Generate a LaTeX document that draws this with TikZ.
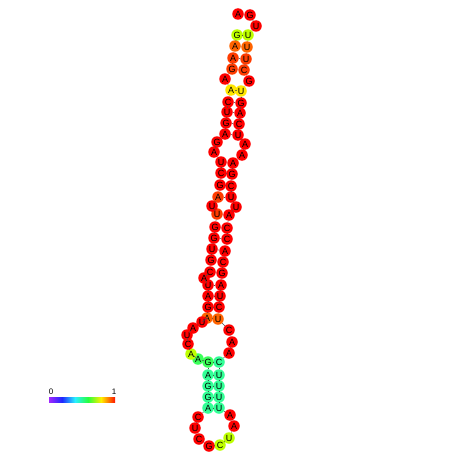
\documentclass[tikz,border=0pt]{standalone}
\usepackage{fontspec}
\setmainfont{Liberation Sans}
\definecolor{nred}{RGB}{255,0,0}
\definecolor{norg}{RGB}{255,100,0}
\definecolor{norr}{RGB}{255,60,0}
\definecolor{nyel}{RGB}{255,230,0}
\definecolor{nyg}{RGB}{190,255,0}
\definecolor{ngrn}{RGB}{60,255,90}
\definecolor{naq}{RGB}{50,255,150}
\definecolor{cbv}{RGB}{160,40,255}
\definecolor{cbb}{RGB}{30,40,255}
\definecolor{cbc}{RGB}{40,240,255}
\definecolor{cbg}{RGB}{40,255,60}
\definecolor{cby}{RGB}{255,240,0}
\definecolor{cbr}{RGB}{255,20,0}
\newcommand\ntd[5]{\node[ntbase,fill=#5] (#1) at (#2,#3) {#4};}
\begin{document}
\begin{tikzpicture}[x=1pt,y=-1pt,
  ntbase/.style={circle,inner sep=0pt,minimum size=11.5pt,font=\fontsize{9}{9}\selectfont},
  bb/.style={draw=black!70,line width=0.5pt},
  bp/.style={draw=black!70,line width=0.5pt},
  lbl/.style={font=\fontsize{8}{8}\selectfont,inner sep=0pt}]
\fill[white] (0,0) rectangle (452,452);
\useasboundingbox (0,0) rectangle (452,452);
% nucleotides
\ntd{n1}{207}{318}{A}{norg}
\ntd{n2}{208}{307}{G}{nred}
\ntd{n3}{208}{296}{A}{nred}
\ntd{n4}{208}{285}{U}{nred}
\ntd{n5}{204}{278}{A}{nred}
\ntd{n6}{210}{272}{C}{nred}
\ntd{n7}{211}{260}{G}{nred}
\ntd{n8}{212}{249}{U}{nred}
\ntd{n9}{214}{238}{G}{nred}
\ntd{n10}{215}{227}{G}{nred}
\ntd{n11}{217}{214}{U}{norr}
\ntd{n12}{212}{206}{U}{nred}
\ntd{n13}{218}{197}{A}{norr}
\ntd{n14}{220}{185}{G}{nred}
\ntd{n15}{221}{173}{C}{nred}
\ntd{n16}{221}{162}{U}{nred}
\ntd{n17}{214}{152}{A}{nred}
\ntd{n18}{217}{142}{G}{nred}
\ntd{n19}{225}{134}{A}{nred}
\ntd{n20}{226}{123}{G}{nred}
\ntd{n21}{227}{112}{U}{nred}
\ntd{n22}{228}{102}{C}{nred}
\ntd{n23}{231}{90}{A}{nyel}
\ntd{n24}{225}{79}{A}{nred}
\ntd{n25}{232}{69}{G}{norr}
\ntd{n26}{233}{58}{A}{norr}
\ntd{n27}{235}{46}{A}{norg}
\ntd{n28}{237}{35}{G}{nyg}
\ntd{n29}{238}{14}{A}{nred}
\ntd{n30}{250}{15}{G}{nred}
\ntd{n31}{256}{26}{U}{nred}
\ntd{n32}{248}{35}{U}{nyg}
\ntd{n33}{247}{47}{U}{norg}
\ntd{n34}{246}{59}{U}{norr}
\ntd{n35}{244}{70}{C}{norr}
\ntd{n36}{249}{81}{G}{nred}
\ntd{n37}{241}{91}{U}{nyel}
\ntd{n38}{241}{103}{G}{nred}
\ntd{n39}{240}{113}{A}{nred}
\ntd{n40}{239}{124}{C}{nred}
\ntd{n41}{238}{135}{U}{nred}
\ntd{n42}{245}{144}{A}{nred}
\ntd{n43}{242}{155}{A}{nred}
\ntd{n44}{233}{163}{A}{nred}
\ntd{n45}{232}{174}{G}{nred}
\ntd{n46}{231}{186}{C}{nred}
\ntd{n47}{231}{197}{U}{nred}
\ntd{n48}{236}{207}{U}{nred}
\ntd{n49}{229}{215}{A}{nred}
\ntd{n50}{227}{228}{C}{nred}
\ntd{n51}{227}{239}{C}{nred}
\ntd{n52}{225}{251}{A}{nred}
\ntd{n53}{223}{262}{C}{nred}
\ntd{n54}{222}{273}{G}{nred}
\ntd{n55}{221}{285}{A}{nred}
\ntd{n56}{220}{296}{U}{nred}
\ntd{n57}{219}{307}{C}{nred}
\ntd{n58}{218}{319}{U}{norg}
\ntd{n59}{229}{330}{C}{nred}
\ntd{n60}{232}{342}{A}{nred}
\ntd{n61}{229}{353}{A}{nred}
\ntd{n62}{219}{362}{C}{naq}
\ntd{n63}{219}{375}{U}{naq}
\ntd{n64}{219}{386}{U}{naq}
\ntd{n65}{219}{397}{U}{naq}
\ntd{n66}{219}{408}{U}{naq}
\ntd{n67}{230}{415}{A}{nred}
\ntd{n68}{234}{426}{A}{nred}
\ntd{n69}{229}{438}{U}{nyg}
\ntd{n70}{220}{445}{C}{nyg}
\ntd{n71}{209}{446}{G}{nred}
\ntd{n72}{199}{439}{C}{nred}
\ntd{n73}{195}{428}{U}{nred}
\ntd{n74}{198}{417}{C}{nred}
\ntd{n75}{208}{408}{A}{naq}
\ntd{n76}{208}{397}{G}{naq}
\ntd{n77}{208}{386}{G}{naq}
\ntd{n78}{208}{375}{A}{naq}
\ntd{n79}{208}{362}{G}{ngrn}
\ntd{n80}{198}{359}{A}{ngrn}
\ntd{n81}{191}{354}{A}{nyg}
\ntd{n82}{188}{344}{C}{nred}
\ntd{n83}{187}{335}{U}{nred}
\ntd{n84}{193}{328}{A}{nred}
\ntd{n85}{202}{322}{U}{nred}
% backbone (5' end at n29, 3' end at n28)
\foreach \a/\b in {1/2,2/3,3/4,4/5,5/6,6/7,7/8,8/9,9/10,10/11,11/12,12/13,13/14,14/15,15/16,16/17,17/18,18/19,19/20,20/21,21/22,22/23,23/24,24/25,25/26,26/27,27/28,29/30,30/31,31/32,32/33,33/34,34/35,35/36,36/37,37/38,38/39,39/40,40/41,41/42,42/43,43/44,44/45,45/46,46/47,47/48,48/49,49/50,50/51,51/52,52/53,53/54,54/55,55/56,56/57,57/58,58/59,59/60,60/61,61/62,62/63,63/64,64/65,65/66,66/67,67/68,68/69,69/70,70/71,71/72,72/73,73/74,74/75,75/76,76/77,77/78,78/79,79/80,80/81,81/82,82/83,83/84,84/85,85/1}
  \draw[bb] (n\a) -- (n\b);
% base pairs
\foreach \a/\b in {1/58,2/57,3/56,4/55,6/54,7/53,8/52,9/51,10/50,11/49,13/47,14/46,15/45,16/44,19/41,20/40,21/39,22/38,23/37,25/35,26/34,27/33,28/32,62/79,63/78,64/77,65/76,66/75}
  \draw[bp] (n\a) -- (n\b);
% colour bar
\shade[left color=cbv,right color=cbb] (49,397) rectangle (62,402);
\shade[left color=cbb,right color=cbc] (62,397) rectangle (75,402);
\shade[left color=cbc,right color=cbg] (75,397) rectangle (88,402);
\shade[left color=cbg,right color=cby] (88,397) rectangle (101,402);
\shade[left color=cby,right color=cbr] (101,397) rectangle (115,402);
\node[lbl] (l0) at (51,392) {0};
\node[lbl] (l1) at (114,392) {1};
\end{tikzpicture}
\end{document}
